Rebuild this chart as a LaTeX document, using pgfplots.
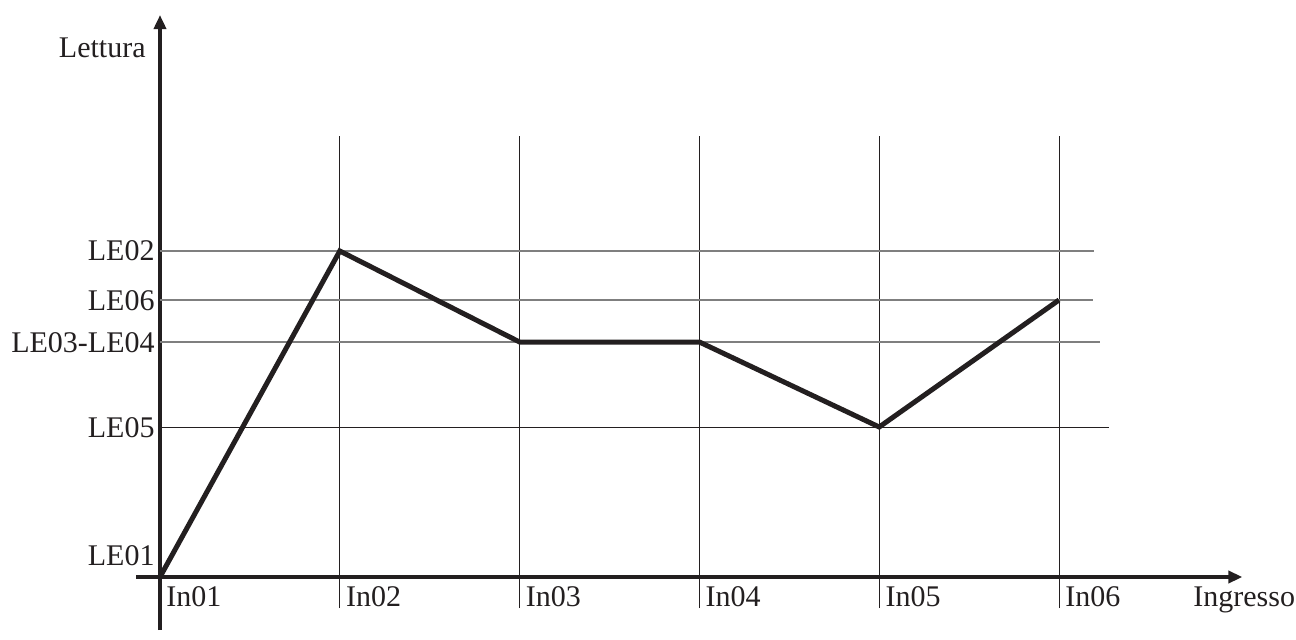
\documentclass[border=0pt]{standalone}
\usepackage{pgfplots}
\pgfplotsset{compat=1.18}
\usepackage{fontspec}
\setmainfont{Liberation Serif}
\usetikzlibrary{arrows.meta}
\definecolor{ink}{HTML}{231F20}
\definecolor{gline}{HTML}{7F7F7F}
\begin{document}
\begin{tikzpicture}[font=\fontsize{15pt}{18pt}\selectfont, text=ink]
\begin{axis}[
  anchor=origin, at={(0,0)},
  x=89.9pt, y=0.5pt,
  xmin=-0.133, xmax=6.02,
  ymin=-53, ymax=562,
  axis lines=middle,
  axis line style={line width=2pt, ink, -{Triangle[length=7pt,width=6pt]}},
  xtick=\empty, ytick=\empty,
  enlargelimits=false,
  clip=false,
]
% vertical grid lines
\foreach \i in {1,...,5} {
  \edef\tmp{\noexpand\draw[ink, line width=0.5pt] (axis cs:\i,-31) -- (axis cs:\i,441);}
  \tmp
}
% horizontal reference lines
\draw[gline, line width=0.6pt] (axis cs:0,326) -- (axis cs:5.195,326);
\draw[gline, line width=0.6pt] (axis cs:0,277) -- (axis cs:5.189,277);
\draw[gline, line width=0.6pt] (axis cs:0,235) -- (axis cs:5.228,235);
\draw[ink, line width=0.5pt] (axis cs:0,150) -- (axis cs:5.278,150);
% data
\addplot[ink, line width=2.5pt, line join=miter, mark=none] coordinates {
  (0,0) (1,326) (2,235) (3,235) (4,150) (5,277)
};
% y labels
\node[anchor=base east, inner sep=0pt] at (axis cs:-0.028,317) {LE02};
\node[anchor=base east, inner sep=0pt] at (axis cs:-0.028,267) {LE06};
\node[anchor=base east, inner sep=0pt] at (axis cs:-0.028,225) {LE03-LE04};
\node[anchor=base east, inner sep=0pt] at (axis cs:-0.028,140) {LE05};
\node[anchor=base east, inner sep=0pt] at (axis cs:-0.028,12) {LE01};
\node[anchor=base east, inner sep=0pt] at (axis cs:-0.078,520) {Lettura};
% x labels
\node[anchor=base west, inner sep=0pt] at (axis cs:0.033,-29) {In01};
\node[anchor=base west, inner sep=0pt] at (axis cs:1.033,-29) {In02};
\node[anchor=base west, inner sep=0pt] at (axis cs:2.033,-29) {In03};
\node[anchor=base west, inner sep=0pt] at (axis cs:3.033,-29) {In04};
\node[anchor=base west, inner sep=0pt] at (axis cs:4.033,-29) {In05};
\node[anchor=base west, inner sep=0pt] at (axis cs:5.033,-29) {In06};
\node[anchor=base west, inner sep=0pt] at (axis cs:5.745,-29) {Ingresso};
\end{axis}
\useasboundingbox (-80pt,-31pt) rectangle (568pt,288.5pt);
\end{tikzpicture}
\end{document}
